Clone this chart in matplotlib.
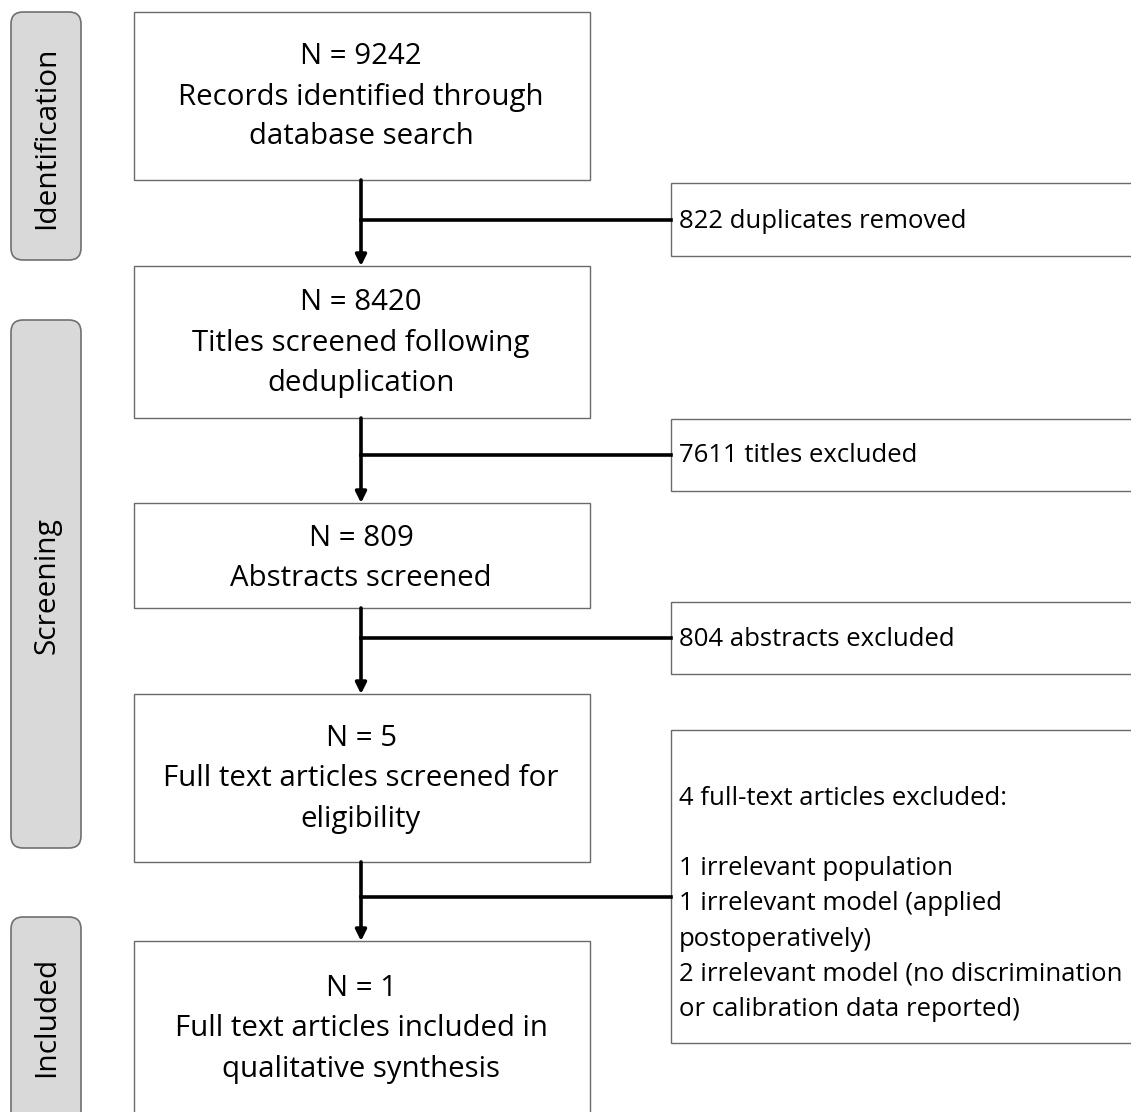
import matplotlib.pyplot as plt
from matplotlib.patches import Rectangle, FancyBboxPatch

plt.rcParams['font.family'] = ['Open Sans', 'DejaVu Sans']

# flow data
stages = ['Identification', 'Screening', 'Included']
counts = [9242, 8420, 809, 5, 1]
box_labels = [
    'Records identified through\ndatabase search',
    'Titles screened following\ndeduplication',
    'Abstracts screened',
    'Full text articles screened for\neligibility',
    'Full text articles included in\nqualitative synthesis',
]
excluded = [
    '822 duplicates removed',
    '7611 titles excluded',
    '804 abstracts excluded',
    '4 full-text articles excluded:\n\n1 irrelevant population\n'
    '1 irrelevant model (applied\npostoperatively)\n'
    '2 irrelevant model (no discrimination\nor calibration data reported)',
]

# layout in pixels (y down)
W, H = 1131, 1112
stage_y = [(12, 260), (320, 848), (917, 1130)]
main_y = [(12, 180), (266, 418), (503, 608), (694, 862), (941, 1130)]
main_text_y = [96, 342, 557, 778, 1028]
side_y = [(183, 256), (419, 491), (602, 674), (730, 1043)]
side_text_y = [220, 455, 638, 903]
branch_y = [220, 455, 638, 897]
main_x0, main_x1 = 134, 590
side_x0 = 671
mid_x = 361

fig = plt.figure(figsize=(W / 100, H / 100), dpi=100)
ax = fig.add_axes([0, 0, 1, 1])
ax.set_xlim(0, W)
ax.set_ylim(H, 0)
ax.axis('off')

for name, (y0, y1) in zip(stages, stage_y):
    ax.add_patch(FancyBboxPatch((11, y0), 70, y1 - y0,
                                boxstyle='round,pad=0,rounding_size=12',
                                facecolor='#d9d9d9', edgecolor='#707070', linewidth=1.2))
    yc = (y0 + min(y1, H)) / 2
    ax.text(47, yc + 2, name, rotation=90, ha='center', va='center', fontsize=21.5)

for n, lab, (y0, y1), ty in zip(counts, box_labels, main_y, main_text_y):
    ax.add_patch(Rectangle((main_x0, y0), main_x1 - main_x0, y1 - y0,
                           facecolor='white', edgecolor='#6a6a6a', linewidth=1.0))
    ax.text(mid_x, ty + 1, 'N = {}\n{}'.format(n, lab), ha='center', va='center',
            fontsize=21.2, linespacing=1.5)

for txt, (y0, y1), ty in zip(excluded, side_y, side_text_y):
    ax.add_patch(Rectangle((side_x0, y0), 600, y1 - y0,
                           facecolor='white', edgecolor='#6a6a6a', linewidth=1.0))
    ax.text(side_x0 + 8, ty + 1, txt, ha='left', va='center',
            fontsize=18.5, linespacing=1.53)

# arrows between main boxes with side branches
for i, by in enumerate(branch_y):
    top = main_y[i][1]
    bottom = main_y[i + 1][0]
    ax.annotate('', xy=(mid_x, bottom), xytext=(mid_x, top),
                arrowprops=dict(arrowstyle='-|>', color='black', lw=2.6,
                                mutation_scale=16, shrinkA=0, shrinkB=0))
    ax.plot([mid_x, side_x0], [by, by], color='black', linewidth=2.6)

fig.savefig('out.png', dpi=100)
